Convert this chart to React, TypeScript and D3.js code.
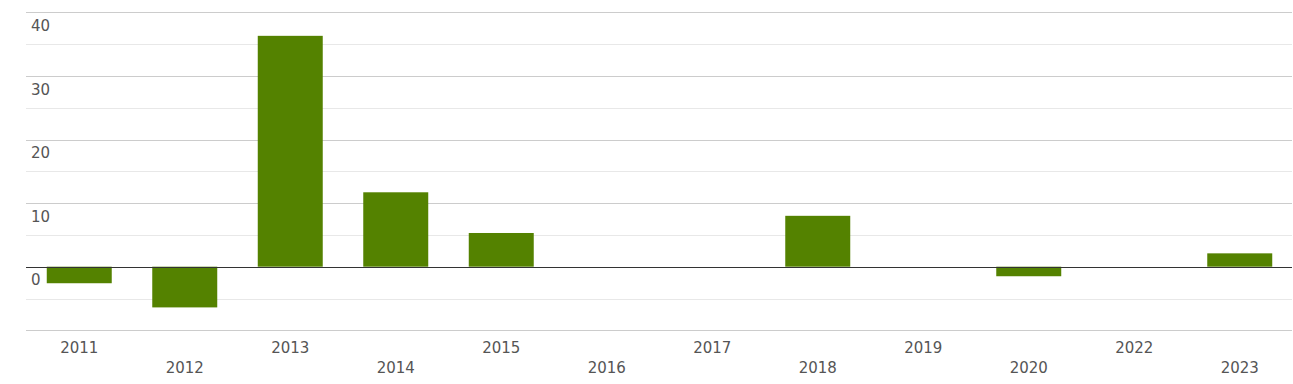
import React from "react";
import * as d3 from "d3";

const categories = ["2011", "2012", "2013", "2014", "2015", "2016", "2017", "2018", "2019", "2020", "2022", "2023"];
const values = [-2.6, -6.4, 36.3, 11.7, 5.3, 0, 0, 8.0, 0, -1.5, 0, 2.1];
const majorTicks = [40, 30, 20, 10, 0, -10];
const minorTicks = [35, 25, 15, 5, -5];

const W = 1293;
const H = 384;
const left = 26;
const right = 1292;
const top = 12.3;
const bottom = 330.3;

export default function App() {
  const x = d3.scaleBand<string>().domain(categories).range([left + 0.5, right + 0.5]).padding(0);
  const y = d3.scaleLinear().domain([-10, 40]).range([bottom, top]);
  const bw = x.bandwidth() * 0.616;
  const font = "'DejaVu Sans', sans-serif";
  return (
    <svg width={W} height={H} style={{ position: "absolute", left: 0, top: 0 }}>
      {minorTicks.map((t) => (
        <line key={"m" + t} x1={left} x2={right} y1={Math.round(y(t)) + 0.5} y2={Math.round(y(t)) + 0.5} stroke="#e8e8e8" strokeWidth={1} />
      ))}
      {majorTicks.filter((t) => t !== 0).map((t) => (
        <line key={"g" + t} x1={left} x2={right} y1={Math.round(y(t)) + 0.5} y2={Math.round(y(t)) + 0.5} stroke="#cccccc" strokeWidth={1} />
      ))}
      {majorTicks.filter((t) => t >= 0).map((t) => (
        <text key={"l" + t} x={31} y={y(t) + 18.7} fontFamily={font} fontSize={15} fill="#555555">
          {t}
        </text>
      ))}
      {categories.map((c, i) => {
        const v = values[i];
        if (v === 0) return null;
        const cx = (x(c) as number) + x.bandwidth() / 2;
        const y0 = y(Math.max(0, v));
        const y1 = y(Math.min(0, v));
        return <rect key={c} x={cx - bw / 2} y={y0} width={bw} height={y1 - y0} fill="#548200" />;
      })}
      <line x1={left} x2={right} y1={Math.round(y(0)) + 0.5} y2={Math.round(y(0)) + 0.5} stroke="#333333" strokeWidth={1} />
      {categories.map((c, i) => (
        <text
          key={"x" + c}
          x={(x(c) as number) + x.bandwidth() / 2}
          y={i % 2 === 0 ? 353.3 : 373.3}
          textAnchor="middle"
          fontFamily={font}
          fontSize={15}
          fill="#555555"
        >
          {c}
        </text>
      ))}
    </svg>
  );
}
